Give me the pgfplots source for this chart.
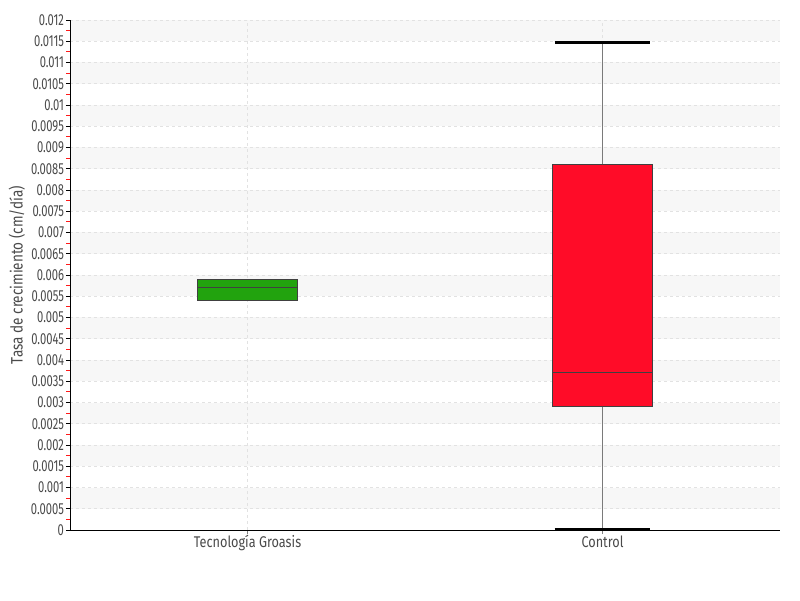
\documentclass[border=0pt]{standalone}
\usepackage{fontspec}
\setmainfont{Fira Sans}[FakeStretch=0.82]
\newfontfamily\tickfont{Fira Sans}[FakeStretch=0.7]
\usepackage{pgfplots}
\pgfplotsset{compat=1.18}
\definecolor{boxgreen}{HTML}{22A30E}
\definecolor{boxred}{HTML}{FF0C28}
\definecolor{band}{HTML}{F7F7F7}
\definecolor{gridc}{HTML}{E2E2E2}
\definecolor{txt}{HTML}{4A4A4A}
\definecolor{whisk}{HTML}{7A7A7A}
\begin{document}
\begin{tikzpicture}
\begin{axis}[
  set layers,
  at={(0pt,0pt)}, anchor=south west,
  scale only axis, width=710pt, height=510pt,
  xmin=-0.5, xmax=1.5, ymin=0, ymax=0.012,
  axis lines*=left,
  axis line style={black, line width=0.8pt},
  xtick={0,1}, xticklabels={Tecnología Groasis, Control},
  ytick={0,0.0005,0.001,0.0015,0.002,0.0025,0.003,0.0035,0.004,0.0045,0.005,0.0055,0.006,0.0065,0.007,0.0075,0.008,0.0085,0.009,0.0095,0.01,0.0105,0.011,0.0115,0.012},
  minor ytick={0.00025,0.00075,0.00125,0.00175,0.00225,0.00275,0.00325,0.00375,0.00425,0.00475,0.00525,0.00575,0.00625,0.00675,0.00725,0.00775,0.00825,0.00875,0.00925,0.00975,0.01025,0.01075,0.01125,0.01175},
  tick align=outside,
  major tick length=4pt, minor tick length=3.5pt,
  every major tick/.style={black, line width=0.8pt},
  every minor tick/.style={red!90!white, line width=0.9pt},
  x tick style={gray, line width=0.8pt},
  /pgf/number format/assume math mode=true,
  scaled y ticks=false,
  yticklabel style={/pgf/number format/fixed, /pgf/number format/precision=4, font=\tickfont\fontsize{16}{16}\selectfont, text=txt, xshift=1.5pt},
  xticklabel style={font=\fontsize{15.5}{15.5}\selectfont, text=txt, yshift=2pt},
  ylabel={Tasa de crecimiento (cm/día)},
  ylabel style={at={(axis description cs:-0.075,0.5)}, anchor=center, font=\fontsize{16.5}{16.5}\selectfont, text=txt},
  ymajorgrids, xmajorgrids,
  grid style={dashed, gridc, line width=0.8pt},
]
\pgfonlayer{axis background}
\fill[band] (axis cs:-0.5,0.0005) rectangle (axis cs:1.5,0.001);
\fill[band] (axis cs:-0.5,0.0015) rectangle (axis cs:1.5,0.002);
\fill[band] (axis cs:-0.5,0.0025) rectangle (axis cs:1.5,0.003);
\fill[band] (axis cs:-0.5,0.0035) rectangle (axis cs:1.5,0.004);
\fill[band] (axis cs:-0.5,0.0045) rectangle (axis cs:1.5,0.005);
\fill[band] (axis cs:-0.5,0.0055) rectangle (axis cs:1.5,0.006);
\fill[band] (axis cs:-0.5,0.0065) rectangle (axis cs:1.5,0.007);
\fill[band] (axis cs:-0.5,0.0075) rectangle (axis cs:1.5,0.008);
\fill[band] (axis cs:-0.5,0.0085) rectangle (axis cs:1.5,0.009);
\fill[band] (axis cs:-0.5,0.0095) rectangle (axis cs:1.5,0.01);
\fill[band] (axis cs:-0.5,0.0105) rectangle (axis cs:1.5,0.011);
\fill[band] (axis cs:-0.5,0.0115) rectangle (axis cs:1.5,0.012);
\endpgfonlayer
% Tecnologia Groasis: box (Q1=0.0054, median=0.0057, Q3=0.0059)
\addplot[fill=boxgreen, draw=black!75, line width=0.8pt] coordinates {(-0.14,0.0054) (0.14,0.0054) (0.14,0.0059) (-0.14,0.0059)} -- cycle;
\addplot[draw=black!75, line width=0.9pt] coordinates {(-0.14,0.0057) (0.14,0.0057)};
% Control: whiskers (0.00002, 0.01146), box (Q1=0.0029, median=0.0037, Q3=0.0086)
\addplot[whisk, line width=1.3pt] coordinates {(1,0.0086) (1,0.01146)};
\addplot[whisk, line width=1.3pt] coordinates {(1,0.00002) (1,0.0029)};
\addplot[black, line width=3pt] coordinates {(0.865,0.01146) (1.135,0.01146)};
\addplot[black, line width=3pt] coordinates {(0.865,0.00002) (1.135,0.00002)};
\addplot[fill=boxred, draw=black!75, line width=0.8pt] coordinates {(0.86,0.0029) (1.14,0.0029) (1.14,0.0086) (0.86,0.0086)} -- cycle;
\addplot[draw=black!75, line width=0.9pt] coordinates {(0.86,0.0037) (1.14,0.0037)};
\end{axis}
\path (-70pt,-70pt) rectangle (730pt,530pt);
\end{tikzpicture}
\end{document}
